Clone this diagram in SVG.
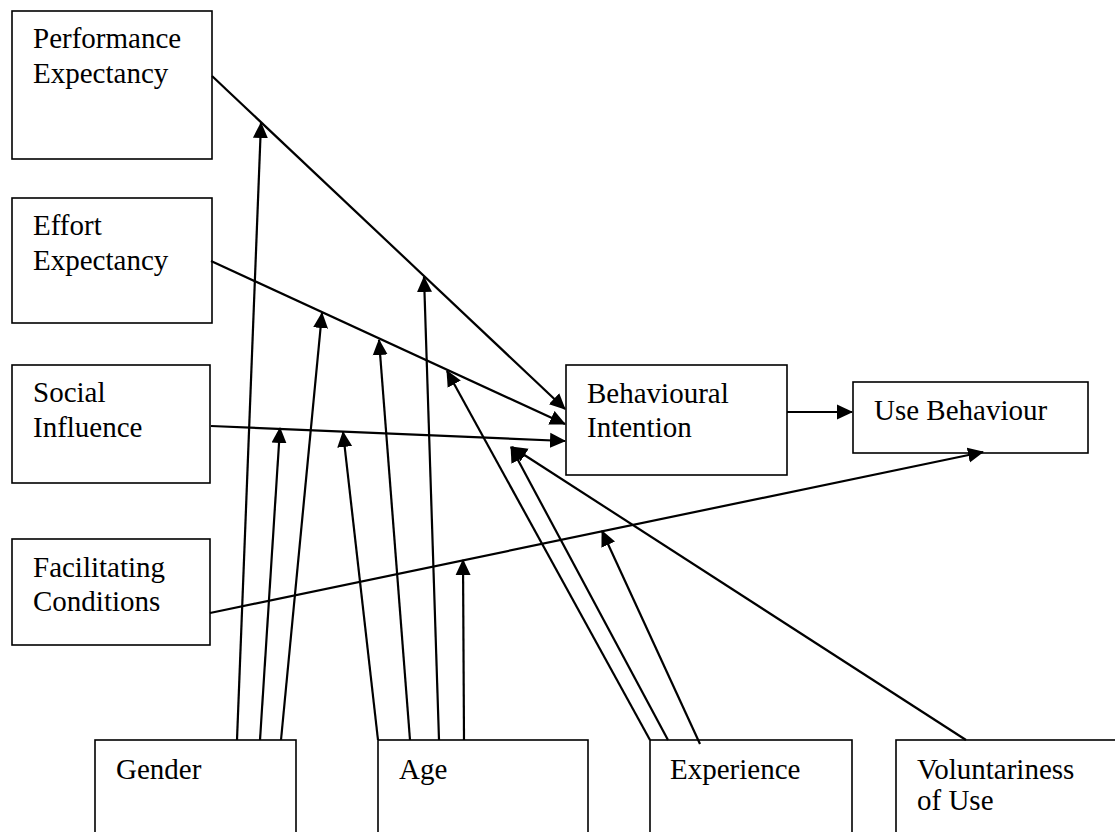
<svg xmlns="http://www.w3.org/2000/svg" width="1115" height="832" viewBox="0 0 1115 832">
  <style>
    .box { fill: #ffffff; stroke: #000000; stroke-width: 1.6; }
    .lbl { font-family: "Liberation Serif", "Times New Roman", serif; font-size: 29px; fill: #000000; }
    .conn { fill: none; stroke: #000000; stroke-width: 2.2; marker-end: url(#head); }
  </style>
  <defs>
    <marker id="head" markerUnits="userSpaceOnUse" viewBox="0 0 16 16" markerWidth="16" markerHeight="16" refX="15" refY="8" orient="auto">
      <path d="M0,0.5 L16,8 L0,15.5 z" fill="#000000"/>
    </marker>
  </defs>
  <rect width="1115" height="832" fill="#ffffff"/>

  <!-- constructs -->
  <g id="performance-expectancy">
    <rect class="box" x="12" y="11" width="200" height="148"/>
    <text class="lbl" x="33" y="48">Performance</text>
    <text class="lbl" x="33" y="83">Expectancy</text>
  </g>
  <g id="effort-expectancy">
    <rect class="box" x="12" y="198" width="200" height="125"/>
    <text class="lbl" x="33" y="235">Effort</text>
    <text class="lbl" x="33" y="270">Expectancy</text>
  </g>
  <g id="social-influence">
    <rect class="box" x="12" y="365" width="198" height="118"/>
    <text class="lbl" x="33" y="402">Social</text>
    <text class="lbl" x="33" y="437">Influence</text>
  </g>
  <g id="facilitating-conditions">
    <rect class="box" x="12" y="539" width="198" height="106"/>
    <text class="lbl" x="33" y="577">Facilitating</text>
    <text class="lbl" x="33" y="611">Conditions</text>
  </g>
  <g id="behavioural-intention">
    <rect class="box" x="566" y="365" width="221" height="110"/>
    <text class="lbl" x="587" y="403">Behavioural</text>
    <text class="lbl" x="587" y="437">Intention</text>
  </g>
  <g id="use-behaviour">
    <rect class="box" x="853" y="382" width="235" height="71"/>
    <text class="lbl" x="874" y="420">Use Behaviour</text>
  </g>

  <!-- moderators (boxes run past the lower edge) -->
  <g id="gender">
    <rect class="box" x="95" y="740" width="201" height="110"/>
    <text class="lbl" x="116" y="779">Gender</text>
  </g>
  <g id="age">
    <rect class="box" x="378" y="740" width="210" height="110"/>
    <text class="lbl" x="399" y="779">Age</text>
  </g>
  <g id="experience">
    <rect class="box" x="650" y="740" width="202" height="110"/>
    <text class="lbl" x="670" y="779">Experience</text>
  </g>
  <g id="voluntariness-of-use">
    <rect class="box" x="896" y="740" width="230" height="110"/>
    <text class="lbl" x="917" y="779">Voluntariness</text>
    <text class="lbl" x="917" y="810">of Use</text>
  </g>

  <g id="connectors">
    <!-- direct effects -->
    <path class="conn" d="M212,76 L565,409"/>
    <path class="conn" d="M211,261 L565,424"/>
    <path class="conn" d="M211,426 L565,441"/>
    <path class="conn" d="M787,412 L852,412"/>
    <path class="conn" d="M210,613 L983,452"/>
    <!-- gender -->
    <path class="conn" d="M237,740 L261,123"/>
    <path class="conn" d="M260,740 L280,428"/>
    <path class="conn" d="M281,740 L322,313"/>
    <!-- age -->
    <path class="conn" d="M378,740 L343,432"/>
    <path class="conn" d="M410,740 L379,340"/>
    <path class="conn" d="M439,740 L424,277"/>
    <path class="conn" d="M464,740 L463,560"/>
    <!-- experience -->
    <path class="conn" d="M650,740 L447,371"/>
    <path class="conn" d="M668,740 L511,447"/>
    <path class="conn" d="M700,744 L602,531"/>
    <!-- voluntariness -->
    <path class="conn" d="M966,740 L512,447"/>
  </g>
</svg>
